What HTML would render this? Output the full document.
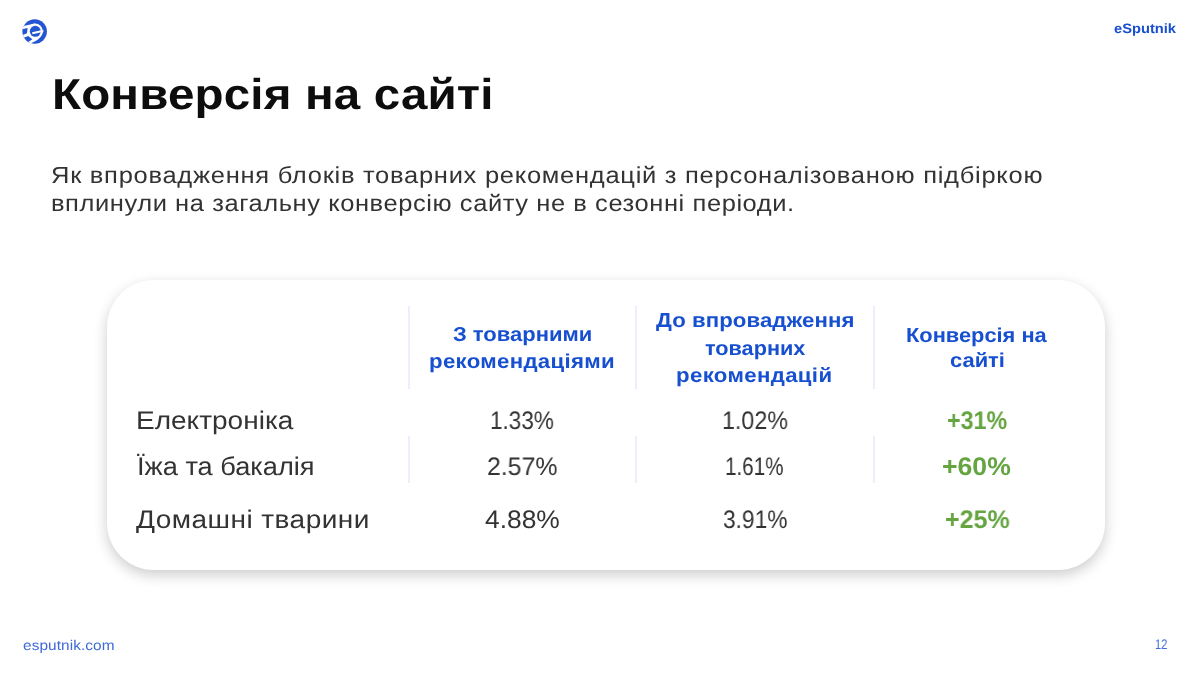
<!DOCTYPE html>
<html lang="uk">
<head>
<meta charset="utf-8">
<title>Конверсія на сайті</title>
<style>
html,body{margin:0;padding:0;background:#ffffff;}
body{width:1200px;height:673px;position:relative;overflow:hidden;font-family:"Liberation Sans",sans-serif;}
.t{position:absolute;white-space:nowrap;line-height:1em;margin:0;padding:0;transform-origin:0 0;text-rendering:geometricPrecision;will-change:transform;}
.card{position:absolute;left:107px;top:279.5px;width:998px;height:290px;border-radius:47px;background:#fff;
  box-shadow:0 5px 14px rgba(0,0,0,0.20);}
.sep{position:absolute;width:1.5px;background:#ebeffd;}
.logo{position:absolute;left:16px;top:13px;width:38px;height:38px;}
</style>
</head>
<body>
<svg class="logo" viewBox="16 13 38 38">
  <defs><clipPath id="lc"><circle cx="34.7" cy="31.5" r="12.2"/></clipPath></defs>
  <g clip-path="url(#lc)">
    <rect x="16" y="13" width="38" height="38" fill="#2456d3"/>
    <circle cx="35.0" cy="31.3" r="7.8" fill="#ffffff"/>
    <path d="M35.2 23.5 L20 26.8 L20 46 L31.6 44.2 L32.3 42.6 C37.6 40.6 42.0 36.6 42.9 31.4 L35 31 Z" fill="#ffffff"/>
    <path d="M20.5 29.6 L27.6 28.1 L27.0 33.3 L20.5 35.9 Z" fill="#2456d3"/>
    <path d="M28.1 35.9 L32.4 39.3 L27.2 42.8 L21.5 38.6 Z" fill="#2456d3"/>
    <circle cx="35.3" cy="31.35" r="5.5" fill="#2456d3"/>
    <path d="M32.3 33.35 L43.4 30.85" stroke="#ffffff" stroke-width="2.0" fill="none"/>
  </g>
</svg>
<div class="card"></div>
<div class="sep" style="left:408.2px;top:306px;height:83px"></div>
<div class="sep" style="left:635px;top:306px;height:83px"></div>
<div class="sep" style="left:873.2px;top:306px;height:83px"></div>
<div class="sep" style="left:408.2px;top:436px;height:46.5px"></div>
<div class="sep" style="left:635px;top:436px;height:46.5px"></div>
<div class="sep" style="left:873.2px;top:436px;height:46.5px"></div>
<div class="t" style="left:51.80px;top:74.00px;font-size:43.2px;font-weight:700;color:#0d0d0d;letter-spacing:0.151px;transform:scaleX(1.1000)">Конверсія на сайті</div>
<div class="t" style="left:50.90px;top:164.00px;font-size:23.2px;font-weight:400;color:#333333;letter-spacing:0.659px;transform:scaleX(1.1000)">Як впровадження блоків товарних рекомендацій з персоналізованою підбіркою</div>
<div class="t" style="left:50.90px;top:192.00px;font-size:23.2px;font-weight:400;color:#333333;letter-spacing:0.516px;transform:scaleX(1.1000)">вплинули на загальну конверсію сайту не в сезонні періоди.</div>
<div class="t" style="left:452.50px;top:325.00px;font-size:20.2px;font-weight:700;color:#164fcf;letter-spacing:0.000px;transform:scaleX(1.0887)">З товарними</div>
<div class="t" style="left:429.40px;top:352.00px;font-size:20.2px;font-weight:700;color:#164fcf;letter-spacing:0.283px;transform:scaleX(1.1000)">рекомендаціями</div>
<div class="t" style="left:655.75px;top:311.00px;font-size:20.2px;font-weight:700;color:#164fcf;letter-spacing:0.061px;transform:scaleX(1.1000)">До впровадження</div>
<div class="t" style="left:704.50px;top:339.00px;font-size:20.2px;font-weight:700;color:#164fcf;letter-spacing:-0.000px;transform:scaleX(1.0740)">товарних</div>
<div class="t" style="left:676.40px;top:366.00px;font-size:20.2px;font-weight:700;color:#164fcf;letter-spacing:0.324px;transform:scaleX(1.1000)">рекомендацій</div>
<div class="t" style="left:905.92px;top:326.00px;font-size:20.2px;font-weight:700;color:#164fcf;letter-spacing:0.000px;transform:scaleX(1.0810)">Конверсія на</div>
<div class="t" style="left:950.00px;top:351.00px;font-size:20.2px;font-weight:700;color:#164fcf;letter-spacing:0.000px;transform:scaleX(1.0850)">сайті</div>
<div class="t" style="left:135.50px;top:409.00px;font-size:25.5px;font-weight:400;color:#333333;letter-spacing:0.000px;transform:scaleX(1.0988)">Електроніка</div>
<div class="t" style="left:137.00px;top:455.00px;font-size:25.5px;font-weight:400;color:#333333;letter-spacing:0.000px;transform:scaleX(1.0665)">Їжа та бакалія</div>
<div class="t" style="left:135.50px;top:508.00px;font-size:25.5px;font-weight:400;color:#333333;letter-spacing:0.395px;transform:scaleX(1.1000)">Домашні тварини</div>
<div class="t" style="left:489.61px;top:409.00px;font-size:25.3px;font-weight:400;color:#333333;letter-spacing:0.000px;transform:scaleX(0.8898)">1.33%</div>
<div class="t" style="left:486.72px;top:455.00px;font-size:25.3px;font-weight:400;color:#333333;letter-spacing:0.000px;transform:scaleX(0.9823)">2.57%</div>
<div class="t" style="left:485.00px;top:508.00px;font-size:25.3px;font-weight:400;color:#333333;letter-spacing:0.000px;transform:scaleX(1.0429)">4.88%</div>
<div class="t" style="left:721.78px;top:409.00px;font-size:25.3px;font-weight:400;color:#333333;letter-spacing:0.000px;transform:scaleX(0.9197)">1.02%</div>
<div class="t" style="left:725.18px;top:455.00px;font-size:25.3px;font-weight:400;color:#333333;letter-spacing:0.000px;transform:scaleX(0.8158)">1.61%</div>
<div class="t" style="left:722.70px;top:508.00px;font-size:25.3px;font-weight:400;color:#333333;letter-spacing:0.000px;transform:scaleX(0.8984)">3.91%</div>
<div class="t" style="left:946.99px;top:409.00px;font-size:25.6px;font-weight:700;color:#64a441;letter-spacing:0.000px;transform:scaleX(0.9080)">+31%</div>
<div class="t" style="left:942.36px;top:455.00px;font-size:25.6px;font-weight:700;color:#64a441;letter-spacing:0.000px;transform:scaleX(1.0395)">+60%</div>
<div class="t" style="left:944.72px;top:508.00px;font-size:25.6px;font-weight:700;color:#64a441;letter-spacing:0.000px;transform:scaleX(0.9768)">+25%</div>
<div class="t" style="left:1114.00px;top:22.00px;font-size:13.6px;font-weight:700;color:#164fcf;letter-spacing:0.000px;transform:scaleX(1.0805)">eSputnik</div>
<div class="t" style="left:22.50px;top:638.00px;font-size:14px;font-weight:400;color:#3f6ad8;letter-spacing:0.062px;transform:scaleX(1.1000)">esputnik.com</div>
<div class="t" style="left:1155.20px;top:637.00px;font-size:14px;font-weight:400;color:#3f6ad8;letter-spacing:-0.104px;transform:scaleX(0.8000)">12</div>
</body>
</html>
